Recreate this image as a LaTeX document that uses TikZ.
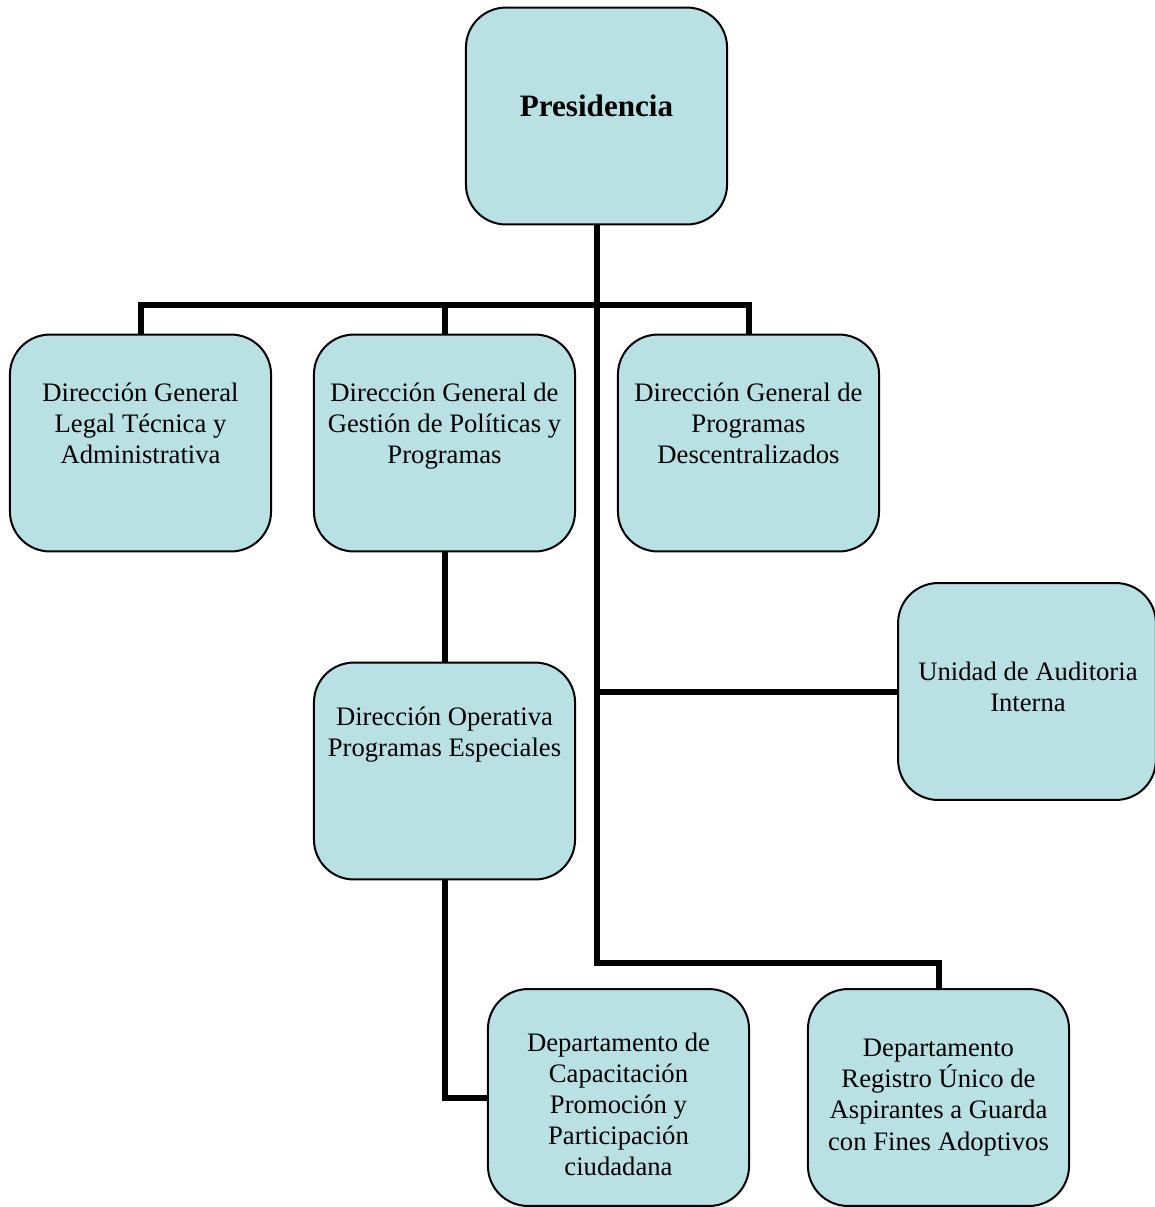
\documentclass[tikz,border=0pt]{standalone}
\usepackage{fontspec}
\setmainfont{Liberation Serif}
\definecolor{boxblue}{HTML}{B9E0E3}

\begin{document}
\begin{tikzpicture}[x=0.45pt,y=-0.45pt]

        \useasboundingbox (0,0) rectangle (1155,1207);

        \begin{scope}[every node/.style={rectangle, rounded corners=18pt, draw, line width=0.9pt,
            fill=boxblue, minimum width=117.5pt, minimum height=97.6pt, inner sep=0pt}]
          \node (1) at (596.5,116)   {};
          \node (2) at (140.5,443)   {};
          \node (3) at (444.5,443)   {};
          \node (4) at (748.5,443)   {};
          \node[minimum width=116pt] (5) at (1027,691.5) {};
          \node (6) at (444.5,771)   {};
          \node (7) at (618.5,1097.5) {};
          \node (8) at (938.5,1097.5) {};
        \end{scope}

        \begin{scope}[every node/.style={align=center, inner sep=0pt, font=\fontsize{12}{14}\selectfont}]
          \node[font=\fontsize{14}{16}\selectfont\bfseries] (t1) at (596.5,106) {Presidencia};
          \node (t2) at (140.5,423)   {Dirección General\\Legal Técnica y\\Administrativa};
          \node (t3) at (444.5,426)   {Dirección General de\\Gestión de Políticas y\\Programas};
          \node (t4) at (748.5,423)   {Dirección General de\\Programas\\Descentralizados};
          \node (t5) at (1028,687)    {Unidad de Auditoria\\Interna};
          \node (t6) at (444.5,734.5) {Dirección Operativa\\Programas Especiales};
          \node (t7) at (618.5,1104.5) {Departamento de\\Capacitación\\Promoción y\\Participación\\ciudadana};
          \node (t8) at (938.5,1097.5) {Departamento\\Registro Único de\\Aspirantes a Guarda\\con Fines Adoptivos};
        \end{scope}

        \begin{scope}[line width=2.7pt]
          \coordinate (bus)  at (596.5,305);
          \coordinate (foot) at (596.5,963);
          \draw (1.south) -- (foot) -| (8.north);
          \draw (2.north) |- (bus) -| (4.north);
          \draw (3.north) -- (3.north |- bus);
          \draw (3.south) -- (6.north);
          \draw (1.south |- 5.west) -- (5.west);
          \draw (6.south) |- (7.west);
        \end{scope}

      \end{tikzpicture}
\end{document}
